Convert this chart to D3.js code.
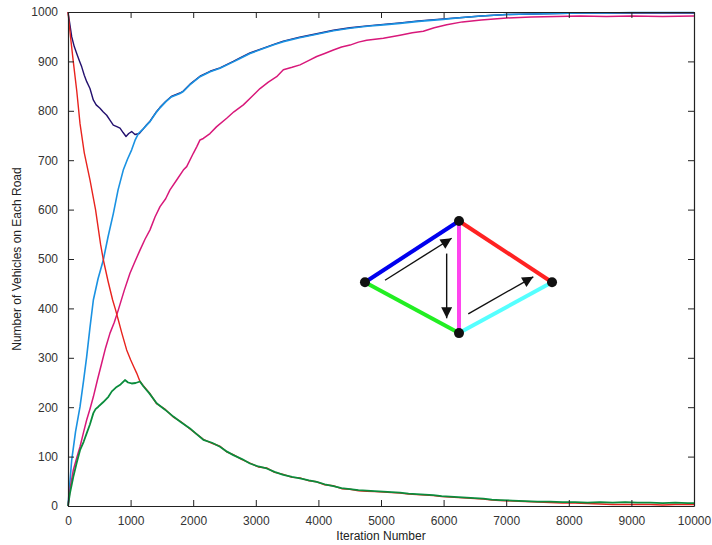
<!DOCTYPE html>
<html><head><meta charset="utf-8">
<script src="https://cdn.jsdelivr.net/npm/d3@7"></script>
<style>body{margin:0;background:#fff}svg{display:block}</style>
</head><body>
<svg id="chart" width="712" height="545"></svg>
<script>
// ---- data ----
const xTicks = [0,1000,2000,3000,4000,5000,6000,7000,8000,9000,10000];
const yTicks = [0,100,200,300,400,500,600,700,800,900,1000];

const redIter = [0,40,85,140,192,260,351,440,520,565,640,713,760,805,860,937,1000,1050,1097,1150,1200,1300,1416,1550,1683,1800,1949,2050,2162,2300,2428,2541,2641,2780,2907,3040,3174,3300,3440,3580,3706,3850,3973,4100,4239,4370,4505,4640,4771,4900,5037,5170,5303,5440,5570,5700,5836,5970,6102,6235,6368,6500,6635,6770,6901,7100,7300,7500,7700,7900,8100,8300,8500,8700,8900,9100,9300,9500,9700,9900,10000];
const redVals = [1000,950,899,840,774,715,660,600,530,498,455,417,397,376,350,316,296,282,269,252,244,229,207,196,180,171,156,146,135,127,121,109,104,94,87,79,77,68,64,58,57,51,49,43,41,35,34,31,30,29,28,27,26,24,23,22,21,19,18,17,16,15,14,12,11,10,9,8,7,6,6,5,4,3,3,3,3,2,3,3,3];

const greenIter = [0,30,85,140,192,250,298,350,405,440,485,560,645,700,777,840,910,960,1017,1080,1150,1200,1300,1416,1550,1683,1800,1949,2050,2162,2300,2428,2541,2641,2780,2907,3040,3174,3300,3440,3580,3706,3850,3973,4100,4239,4370,4505,4640,4771,4900,5037,5170,5303,5440,5570,5700,5836,5970,6102,6235,6368,6500,6635,6770,6901,7100,7300,7500,7700,7900,8100,8300,8500,8700,8900,9100,9300,9500,9700,9900,10000];
const greenVals = [0,25,59,88,113,130,147,165,188,196,201,210,221,232,241,246,255,250,248,249,252,243,228,208,195,181,170,157,146,134,128,120,110,103,95,86,80,76,69,63,59,56,52,49,44,40,36,34,32,31,30,29,28,27,25,24,23,22,20,19,18,17,16,15,13,12,11,10,9,9,8,8,7,8,7,8,7,7,6,7,6,6];

const navyIter = [0,30,59,100,139,180,219,260,299,351,404,450,511,560,618,670,724,780,831,880,927,970,1017,1070,1139,1200,1257,1310,1400,1470,1560,1650,1789,1842,1950,2109,2270,2428,2641,2748,2907,3100,3300,3440,3700,3973,4240,4505,4780,5037,5303,5600,5995,6300,6600,7008,7400,7800,8200,8600,9000,9500,10000];
const navyVals = [1000,975,950,930,916,902,889,872,859,845,822,812,805,798,791,781,771,768,765,756,748,754,758,752,754,763,772,779,796,807,819,829,836,840,854,870,880,887,900,907,917,926,935,941,949,956,963,968,972,975,978,982,986,989,992,995,996,997,998,998,998,998,998];

const blueIter = [0,59,120,192,250,298,350,405,480,564,640,724,800,883,950,1017,1070,1124,1200,1257,1310,1400,1470,1560,1650,1789,1842,1950,2109,2270,2428,2641,2748,2907,3100,3300,3440,3700,3973,4240,4505,4780,5037,5303,5600,5995,6300,6600,7008,7400,7800,8200,8600,9000,9500,10000];
const blueVals = [0,93,150,201,255,302,360,417,460,498,545,592,640,680,702,721,740,754,763,771,778,795,806,818,828,835,839,853,869,879,886,899,906,916,925,934,940,948,955,962,967,971,974,977,981,985,989,992,995,996,997,998,998,999,999,999];

const magIter = [0,40,85,140,192,250,298,350,405,470,538,600,671,740,804,900,990,1070,1150,1230,1310,1390,1470,1560,1629,1736,1842,1896,2002,2056,2109,2162,2268,2375,2535,2650,2801,2930,3067,3200,3333,3440,3580,3706,3850,3973,4100,4239,4370,4505,4640,4771,5037,5303,5500,5676,5850,6049,6300,6600,7008,7400,7800,8179,8600,9000,9500,10000];
const magVals = [0,40,73,98,120,150,174,196,221,255,289,320,350,372,397,437,471,495,518,540,559,585,606,622,640,660,680,687,714,727,741,744,754,768,785,798,812,828,845,858,869,883,888,893,902,910,916,923,929,933,939,943,947,953,958,961,968,974,980,984,988,990,991,992,991,992,991,992];

// inset network (placed in axis units)
const nodeNames = ["A","B","C","D"];
const nodeIter = [4744,6246,6246,7732];
const nodeVals = [453,577,350,453];
const edgeFrom = ["A","A","B","B","C"];
const edgeTo   = ["B","C","C","D","D"];
const edgeColors = ["#0000ee","#22ee22","#ff44ee","#ff2222","#55ffff"];
const arrowFromIter = [5064,6049,6394];
const arrowFromVals = [457,511,389];
const arrowToIter   = [6129,6049,7433];
const arrowToVals   = [542,380,464];

const seriesColors = {red:"#e8231e", green:"#0a8c3c", navy:"#23106e", blue:"#1a92e2", mag:"#d8187a"};
</script>
<script>
(function(){
const svg = d3.select("#chart");
const m = {l:68, r:18, t:12, b:39};
const W = 712, H = 545;
const x = d3.scaleLinear().domain([0,10000]).range([m.l, W - m.r]);
const y = d3.scaleLinear().domain([0,1000]).range([H - m.b, m.t]);
const pw = W - m.r - m.l, ph = H - m.b - m.t;

const line = d3.line().x(d => x(d[0])).y(d => y(d[1]));
function zipS(a,b){ return a.map((v,i)=>[v,b[i]]); }
const series = [
  {it:navyIter, v:navyVals, c:seriesColors.navy, w:1.4},
  {it:blueIter, v:blueVals, c:seriesColors.blue, w:1.6},
  {it:magIter,  v:magVals,  c:seriesColors.mag,  w:1.5},
  {it:redIter,  v:redVals,  c:seriesColors.red,  w:1.4},
  {it:greenIter,v:greenVals,c:seriesColors.green,w:1.8},
];
const gl = svg.append("g");
series.forEach(s => {
  gl.append("path").datum(zipS(s.it, s.v))
    .attr("fill","none").attr("stroke",s.c).attr("stroke-width",s.w)
    .attr("stroke-linejoin","round").attr("d",line);
});

const axCol = "#222";
const fnt = "Liberation Sans, Arial, Helvetica, sans-serif";
const tl = 6;
const gBottom = svg.append("g").attr("transform",`translate(0,${H-m.b})`)
  .call(d3.axisBottom(x).tickValues(xTicks).tickSizeInner(-tl).tickSizeOuter(0).tickPadding(tl+4).tickFormat(d3.format("d")));
const gTop = svg.append("g").attr("transform",`translate(0,${m.t})`)
  .call(d3.axisTop(x).tickValues(xTicks).tickSizeInner(-tl).tickSizeOuter(0).tickFormat(""));
const gLeft = svg.append("g").attr("transform",`translate(${m.l},0)`)
  .call(d3.axisLeft(y).tickValues(yTicks).tickSizeInner(-tl).tickSizeOuter(0).tickPadding(tl+4).tickFormat(d3.format("d")));
const gRight = svg.append("g").attr("transform",`translate(${W-m.r},0)`)
  .call(d3.axisRight(y).tickValues(yTicks).tickSizeInner(-tl).tickSizeOuter(0).tickFormat(""));
[gBottom,gTop,gLeft,gRight].forEach(g => {
  g.select(".domain").attr("stroke",axCol).attr("stroke-width",1.2);
  g.selectAll(".tick line").attr("stroke",axCol).attr("stroke-width",1);
  g.selectAll(".tick text").attr("fill","#333").style("font-family",fnt).style("font-size","12px");
});

svg.append("text").attr("x", m.l + pw/2).attr("y", 540).attr("text-anchor","middle")
  .style("font-family",fnt).style("font-size","12px").attr("fill","#222").text("Iteration Number");
svg.append("text").attr("transform",`translate(21,${m.t + ph/2}) rotate(-90)`).attr("text-anchor","middle")
  .style("font-family",fnt).style("font-size","12px").attr("fill","#222").text("Number of Vehicles on Each Road");

const idx = n => nodeNames.indexOf(n);
const gi = svg.append("g");
edgeFrom.forEach((f,i) => {
  const a = idx(f), b = idx(edgeTo[i]);
  gi.append("line")
    .attr("x1",x(nodeIter[a])).attr("y1",y(nodeVals[a]))
    .attr("x2",x(nodeIter[b])).attr("y2",y(nodeVals[b]))
    .attr("stroke",edgeColors[i]).attr("stroke-width",4);
});
svg.append("defs").append("marker").attr("id","ah")
  .attr("viewBox","0 0 10 10").attr("refX",10).attr("refY",5)
  .attr("markerWidth",16).attr("markerHeight",11).attr("markerUnits","userSpaceOnUse").attr("orient","auto")
  .append("path").attr("d","M0,0 L10,5 L0,10 Z").attr("fill","#111");
arrowFromIter.forEach((f,i) => {
  gi.append("line")
    .attr("x1",x(f)).attr("y1",y(arrowFromVals[i]))
    .attr("x2",x(arrowToIter[i])).attr("y2",y(arrowToVals[i]))
    .attr("stroke","#111").attr("stroke-width",1.4).attr("marker-end","url(#ah)");
});
nodeNames.forEach((n,i) => {
  gi.append("circle").attr("cx",x(nodeIter[i])).attr("cy",y(nodeVals[i])).attr("r",5).attr("fill","#111");
});
})();
</script>
</body></html>
